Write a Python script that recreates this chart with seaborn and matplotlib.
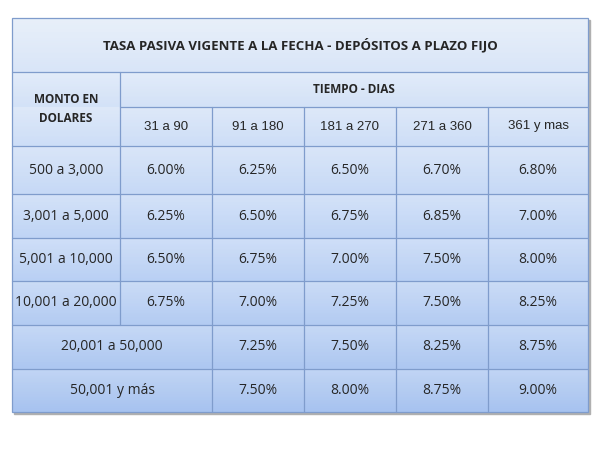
import numpy as np
import matplotlib
matplotlib.use("Agg")
import matplotlib.pyplot as plt
import seaborn as sns
from matplotlib.colors import LinearSegmentedColormap

title = "TASA PASIVA VIGENTE A LA FECHA - DEPÓSITOS A PLAZO FIJO"
row_header = "MONTO EN\nDOLARES"
col_group = "TIEMPO - DIAS"
periods = ["31 a 90", "91 a 180", "181 a 270", "271 a 360", "361 y mas"]
amounts = ["500 a 3,000", "3,001 a 5,000", "5,001 a 10,000", "10,001 a 20,000",
           "20,001 a 50,000", "50,001 y más"]
rates = [
    ["6.00%", "6.25%", "6.50%", "6.70%", "6.80%"],
    ["6.25%", "6.50%", "6.75%", "6.85%", "7.00%"],
    ["6.50%", "6.75%", "7.00%", "7.50%", "8.00%"],
    ["6.75%", "7.00%", "7.25%", "7.50%", "8.25%"],
    ["7.25%", "7.50%", "8.25%", "8.75%"],
    ["7.50%", "8.00%", "8.75%", "9.00%"],
]

sns.set_theme(style="white")
fig = plt.figure(figsize=(6, 4.5), dpi=100)
ax = fig.add_axes([0, 0, 1, 1])
ax.set_xlim(0, 600); ax.set_ylim(450, 0); ax.axis("off")

xs = [12, 120, 212, 304, 396, 488, 588]
ys = [18, 72, 107, 146, 194, 238, 281, 325, 369, 412]
L, R, T, B = xs[0], xs[-1], ys[0], ys[-1]

# shadow
ax.add_patch(plt.Rectangle((L + 2, T + 2), R - L, B - T, color="#b0b0b0", zorder=0))
cmap = LinearSegmentedColormap.from_list("bg", ["#e1ebf9", "#c3d7f6", "#a7c3f0"])
grad = np.linspace(0, 1, 256).reshape(-1, 1)
ax.imshow(grad, extent=(L, R, B, T), cmap=cmap, aspect="auto", zorder=1)
# subtle per-row highlight
for y0, y1 in zip(ys[:-1], ys[1:]):
    g = np.linspace(0.25, 0, 64).reshape(-1, 1)
    ax.imshow(np.ones_like(g), extent=(L, R, y1, y0), cmap="gray", vmin=0, vmax=1,
              alpha=g, aspect="auto", zorder=1.5)

lc = "#7f9ccc"; lw = 0.9
ax.add_patch(plt.Rectangle((L, T), R - L, B - T, fill=False, ec=lc, lw=lw, zorder=3))
ax.plot([L, R], [ys[1]] * 2, color=lc, lw=lw, zorder=3)
ax.plot([xs[1], R], [ys[2]] * 2, color=lc, lw=lw, zorder=3)
for y in ys[3:-1]:
    ax.plot([L, R], [y, y], color=lc, lw=lw, zorder=3)
ax.plot([xs[1]] * 2, [ys[1], ys[7]], color=lc, lw=lw, zorder=3)
for x in xs[2:-1]:
    ax.plot([x, x], [ys[2], B], color=lc, lw=lw, zorder=3)

cal = "Open Sans"
ax.text((L + R) / 2, (ys[0] + ys[1]) / 2, title, ha="center", va="center",
        fontsize=9.5, fontweight="bold", family=cal, zorder=4)
ax.text((L + xs[1]) / 2, (ys[1] + ys[3]) / 2, row_header, ha="center", va="center",
        fontsize=8.5, fontweight="bold", family=cal, linespacing=1.6, zorder=4)
ax.text((xs[1] + R) / 2, (ys[1] + ys[2]) / 2, col_group, ha="center", va="center",
        fontsize=8.5, fontweight="bold", family=cal, zorder=4)
for j, p in enumerate(periods):
    ax.text((xs[j + 1] + xs[j + 2]) / 2, (ys[2] + ys[3]) / 2, p, ha="center",
            va="center", fontsize=9.5, family="Liberation Sans", zorder=4)
for i, (a, r) in enumerate(zip(amounts, rates)):
    yc = (ys[i + 3] + ys[i + 4]) / 2
    if len(r) == 5:
        ax.text((L + xs[1]) / 2, yc, a, ha="center", va="center", fontsize=10, family=cal, zorder=4)
        cols = range(1, 6)
    else:
        ax.text((L + xs[2]) / 2, yc, a, ha="center", va="center", fontsize=10, family=cal, zorder=4)
        cols = range(2, 6)
    for c, v in zip(cols, r):
        ax.text((xs[c] + xs[c + 1]) / 2, yc, v, ha="center", va="center",
                fontsize=10, family=cal, zorder=4)

fig.savefig("out.png", dpi=100, facecolor="white")
